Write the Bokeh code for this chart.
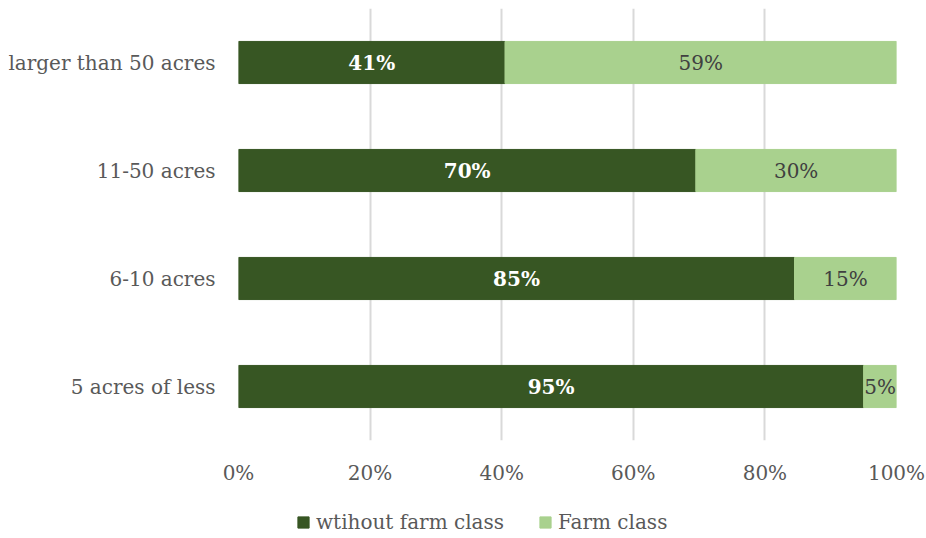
from bokeh.plotting import figure
from bokeh.layouts import column
from bokeh.models import ColumnDataSource, Legend, LegendItem, FixedTicker, PrintfTickFormatter, LabelSet
from bokeh.core.properties import value
from bokeh.embed import file_html
from bokeh.resources import INLINE

categories = ["5 acres of less", "6-10 acres", "11-50 acres", "larger than 50 acres"]
without_farm = [95.0, 84.5, 69.5, 40.5]
farm_class = [5.0, 15.5, 30.5, 59.5]
without_labels = ["95%", "85%", "70%", "41%"]
farm_labels = ["5%", "15%", "30%", "59%"]
x_ticks = [0, 20, 40, 60, 80, 100]
series_names = ["wtihout farm class", "Farm class"]

FONT = "DejaVu Serif"
DARK = "#375623"
LIGHT = "#A9D18E"
FS = "20px"

src = ColumnDataSource(dict(
    cat=categories,
    w_end=without_farm,
    f_end=[a + b for a, b in zip(without_farm, farm_class)],
    w_mid=[a / 2 for a in without_farm],
    f_mid=[a + b / 2 for a, b in zip(without_farm, farm_class)],
    wl=without_labels,
    fl=farm_labels,
))

p = figure(width=926, height=498, y_range=categories, x_range=(0, 100),
           output_backend="svg", toolbar_location=None,
           min_border_left=238, min_border_right=30, min_border_top=8, min_border_bottom=58)
p.outline_line_color = None

p.hbar(y="cat", left=0, right="w_end", height=0.39, color=DARK, source=src)
p.hbar(y="cat", left="w_end", right="f_end", height=0.39, color=LIGHT, source=src)

p.add_layout(LabelSet(x="w_mid", y="cat", text="wl", source=src, text_align="center",
                      text_baseline="middle", text_color="white", text_font=value(FONT),
                      text_font_style="bold", text_font_size=value(FS)))
p.add_layout(LabelSet(x="f_mid", y="cat", text="fl", source=src, text_align="center",
                      text_baseline="middle", text_color="#404040", text_font=value(FONT),
                      text_font_size=value(FS)))

p.xaxis.ticker = FixedTicker(ticks=x_ticks)
p.xaxis.formatter = PrintfTickFormatter(format="%d%%")
for ax in (p.xaxis, p.yaxis):
    ax.axis_line_color = None
    ax.major_tick_line_color = None
    ax.minor_tick_line_color = None
    ax.major_label_text_font = FONT
    ax.major_label_text_font_size = FS
    ax.major_label_text_color = "#595959"
p.xaxis.major_label_standoff = 14
p.yaxis.major_label_standoff = 17

p.ygrid.grid_line_color = None
p.xgrid.grid_line_color = "#D9D9D9"
p.xgrid.grid_line_width = 2

# legend strip (frame aligned with main plot by the column layout)
lf = figure(width=926, height=40, x_range=(0, 100), y_range=(0, 40),
            x_axis_type=None, y_axis_type=None,
            output_backend="svg", toolbar_location=None,
            min_border_left=238, min_border_right=30, min_border_top=0, min_border_bottom=0)
lf.grid.visible = False
lf.outline_line_color = None
d1 = lf.hbar(y=[-100], left=[0], right=[1], height=1, color=DARK)
d2 = lf.hbar(y=[-100], left=[0], right=[1], height=1, color=LIGHT)

legend = Legend(items=[LegendItem(label=series_names[0], renderers=[d1]),
                       LegendItem(label=series_names[1], renderers=[d2])],
                orientation="horizontal", location=(58, 4))
legend.label_text_font = FONT
legend.label_text_font_size = FS
legend.label_text_color = "#595959"
legend.glyph_width = 14
legend.glyph_height = 14
legend.spacing = 34
legend.label_standoff = 6
legend.border_line_color = None
legend.background_fill_alpha = 0
legend.padding = 0
legend.margin = 0
lf.add_layout(legend, "center")

layout = column(p, lf, spacing=0)
open("out.html", "w").write(file_html(layout, INLINE))
